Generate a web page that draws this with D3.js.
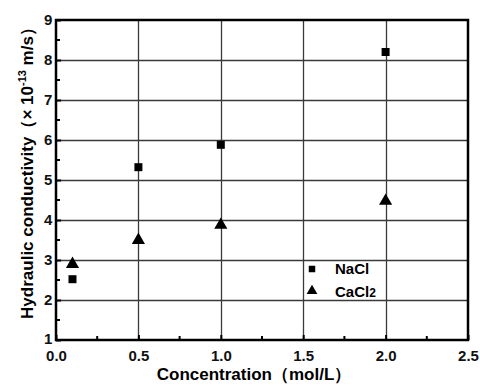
<!DOCTYPE html>
<html>
<head>
<meta charset="utf-8">
<script src="https://cdn.jsdelivr.net/npm/d3@7"></script>
<style>
  body { margin: 0; background: #fff; }
  svg { display: block; font-family: "Liberation Sans", Arial, sans-serif; }
</style>
</head>
<body>
<div id="chart"></div>
<script>
// concentrations (mol/L)
const concentrations = [0.1, 0.5, 1.0, 2.0];
// hydraulic conductivity x 1e-13 m/s
const naclValues = [2.52, 5.32, 5.88, 8.2];
const cacl2Values = [2.92, 3.52, 3.9, 4.5];
const xTicks = [0.0, 0.5, 1.0, 1.5, 2.0, 2.5];
const yTicks = [1, 2, 3, 4, 5, 6, 7, 8, 9];

const W = 480, H = 389;
const m = { left: 56, right: 12, top: 20, bottom: 49 };

const svg = d3.select("#chart").append("svg")
  .attr("width", W).attr("height", H);

const x = d3.scaleLinear().domain([0, 2.5]).range([m.left, W - m.right]);
const y = d3.scaleLinear().domain([1, 9]).range([H - m.bottom, m.top]);
const px = v => Math.round(v) + 0.5;

// grid
svg.append("g").selectAll("line")
  .data(xTicks.slice(1, -1))
  .join("line")
  .attr("x1", d => px(x(d))).attr("x2", d => px(x(d)))
  .attr("y1", y(1)).attr("y2", y(9))
  .attr("stroke", "#3a3a3a").attr("stroke-width", 1.3);
svg.append("g").selectAll("line")
  .data(yTicks.slice(1, -1))
  .join("line")
  .attr("x1", x(0)).attr("x2", x(2.5))
  .attr("y1", d => px(y(d))).attr("y2", d => px(y(d)))
  .attr("stroke", "#3a3a3a").attr("stroke-width", 1.3);

// axes, ticks pointing inward
const xAxis = d3.axisBottom(x).tickValues(xTicks).tickFormat(d3.format(".1f")).tickSizeInner(-5).tickSizeOuter(0);
const yAxis = d3.axisLeft(y).tickValues(yTicks).tickFormat(d3.format("d")).tickSizeInner(-5).tickSizeOuter(0);

const gx = svg.append("g").attr("transform", `translate(0,${y(1)})`).call(xAxis);
const gy = svg.append("g").attr("transform", `translate(${x(0)},0)`).call(yAxis);
[gx, gy].forEach(g => {
  g.select(".domain").remove();
  g.selectAll("line").attr("stroke", "#000").attr("stroke-width", 2);
  g.selectAll("text").attr("font-size", 15).attr("font-weight", "bold").attr("fill", "#111");
});
gx.selectAll("text").attr("dy", "1.2em");
gy.selectAll("text").attr("dx", "-0.05em").attr("dy", d => d === 1 ? "0.2em" : "0.32em");

// minor ticks
const xMinor = [0.25, 0.75, 1.25, 1.75, 2.25];
const yMinor = [1.5, 2.5, 3.5, 4.5, 5.5, 6.5, 7.5, 8.5];
svg.append("g").selectAll("line").data(xMinor).join("line")
  .attr("x1", d => x(d)).attr("x2", d => x(d))
  .attr("y1", y(1)).attr("y2", y(1) - 4)
  .attr("stroke", "#000").attr("stroke-width", 2);
svg.append("g").selectAll("line").data(yMinor).join("line")
  .attr("x1", x(0)).attr("x2", x(0) + 4)
  .attr("y1", d => y(d)).attr("y2", d => y(d))
  .attr("stroke", "#000").attr("stroke-width", 2);

// frame
svg.append("rect")
  .attr("x", x(0)).attr("y", y(9))
  .attr("width", x(2.5) - x(0)).attr("height", y(1) - y(9))
  .attr("fill", "none").attr("stroke", "#000").attr("stroke-width", 2.5);

// markers
const sq = d3.symbol().type(d3.symbolSquare).size(64);
const tri = d3.symbol().type(d3.symbolTriangle).size(75);

svg.append("g").selectAll("path")
  .data(concentrations.map((c, i) => [c, naclValues[i]]))
  .join("path")
  .attr("d", sq)
  .attr("transform", d => `translate(${x(d[0])},${y(d[1])})`)
  .attr("fill", "#000");

svg.append("g").selectAll("path")
  .data(concentrations.map((c, i) => [c, cacl2Values[i]]))
  .join("path")
  .attr("d", tri)
  .attr("transform", d => `translate(${x(d[0])},${y(d[1]) + 1})`)
  .attr("fill", "#000");

// legend
const lg = svg.append("g").attr("transform", "translate(312,269)");
lg.append("path").attr("d", d3.symbol().type(d3.symbolSquare).size(42)).attr("fill", "#000");
lg.append("text").attr("x", 23).attr("y", 5).attr("font-size", 15).attr("font-weight", "bold").text("NaCl");
lg.append("path").attr("d", d3.symbol().type(d3.symbolTriangle).size(50))
  .attr("transform", "translate(0,22)").attr("fill", "#000");
const ct = lg.append("text").attr("x", 23).attr("y", 28).attr("font-size", 15).attr("font-weight", "bold");
ct.append("tspan").text("CaCl");
ct.append("tspan").attr("font-size", 12).text("2");

// axis titles
svg.append("text")
  .attr("x", (x(0) + x(2.5)) / 2 - 8).attr("y", 380)
  .attr("text-anchor", "middle").attr("font-size", 17).attr("font-weight", "bold")
  .text("Concentration（mol/L）");

const yt = svg.append("text")
  .attr("transform", `translate(33,${(y(1) + y(9)) / 2 - 11}) rotate(-90)`)
  .attr("text-anchor", "middle").attr("font-size", 17).attr("font-weight", "bold");
yt.append("tspan").text("Hydraulic conductivity（× 10");
yt.append("tspan").attr("font-size", 11).attr("dy", -7).text("-13");
yt.append("tspan").attr("dy", 7).text(" m/s）");
</script>
</body>
</html>
